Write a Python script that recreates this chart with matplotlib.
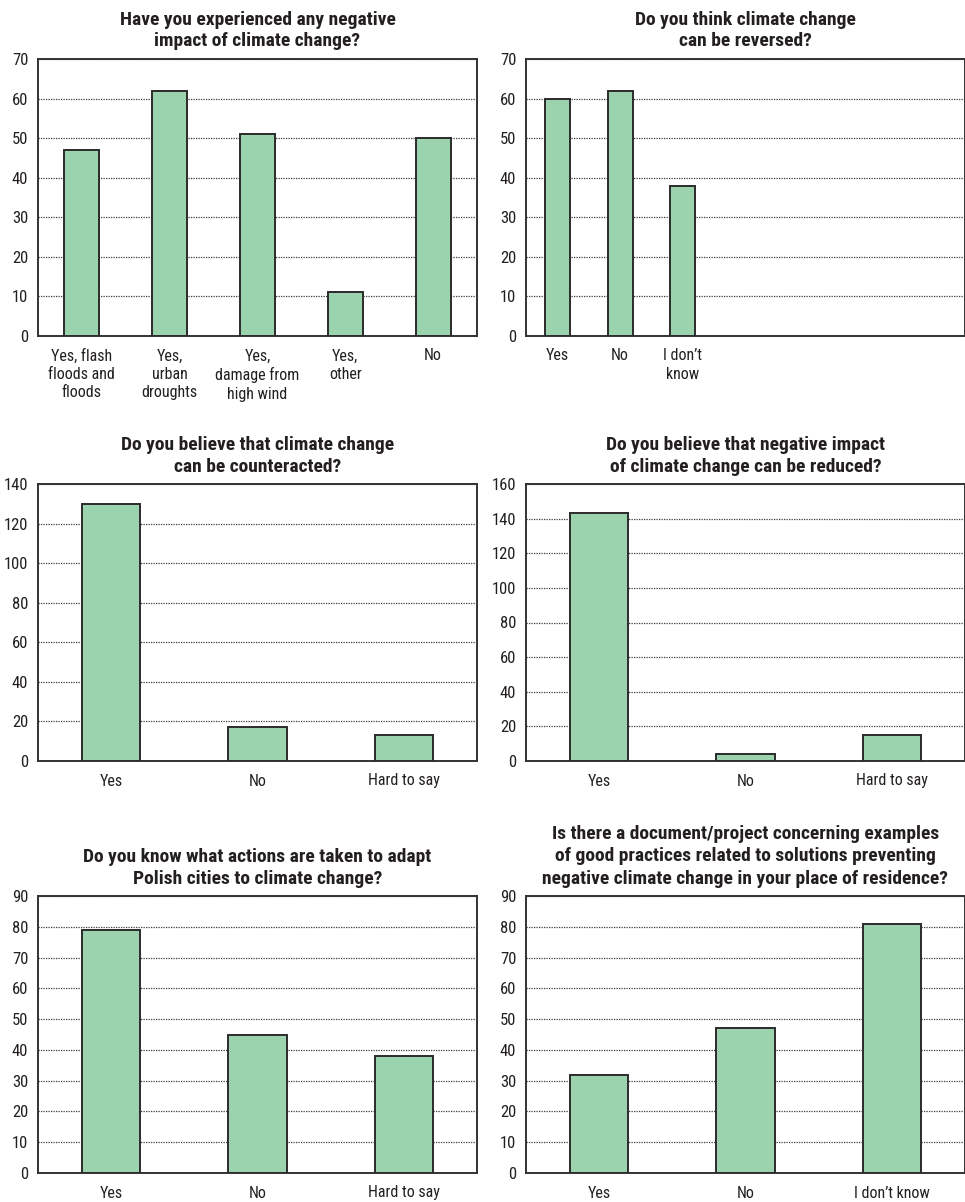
import matplotlib
matplotlib.use("Agg")
import matplotlib.pyplot as plt
from matplotlib import font_manager

# Pick a condensed sans if one is installed
available = {f.name for f in font_manager.fontManager.ttflist}
family = [f for f in ["Roboto Condensed", "Liberation Sans Narrow", "Liberation Sans", "DejaVu Sans"] if f in available]
plt.rcParams["font.family"] = family

# ---- data ----
titles = [
    "Have you experienced any negative\nimpact of climate change?",
    "Do you think climate change\ncan be reversed?",
    "Do you believe that climate change\ncan be counteracted?",
    "Do you believe that negative impact\nof climate change can be reduced?",
    "Do you know what actions are taken to adapt\nPolish cities to climate change?",
    "Is there a document/project concerning examples\nof good practices related to solutions preventing\nnegative climate change in your place of residence?",
]

impact_labels = ["Yes, flash\nfloods and\nfloods", "Yes,\nurban\ndroughts", "Yes,\ndamage from\nhigh wind", "Yes,\nother", "No"]
impact_values = [47, 62, 51, 11, 50]

reversed_labels = ["Yes", "No", "I don\u2019t\nknow"]
reversed_values = [60, 62, 38]

counteract_labels = ["Yes", "No", "Hard to say"]
counteract_values = [130, 17, 13]

reduce_labels = ["Yes", "No", "Hard to say"]
reduce_values = [143, 4, 15]

actions_labels = ["Yes", "No", "Hard to say"]
actions_values = [79, 45, 38]

document_labels = ["Yes", "No", "I don\u2019t know"]
document_values = [32, 47, 81]

y_limits = [70, 70, 140, 160, 90, 90]
y_steps = [10, 10, 20, 20, 10, 10]
slots = [5, 7, 3, 3, 3, 3]

panels = [
    (impact_labels, impact_values),
    (reversed_labels, reversed_values),
    (counteract_labels, counteract_values),
    (reduce_labels, reduce_values),
    (actions_labels, actions_values),
    (document_labels, document_values),
]

# ---- layout ----
W, H = 965, 1202
fig = plt.figure(figsize=(W / 100, H / 100), dpi=100)

col_left = [38, 526]
row_top = [59, 484, 896]
ax_w, ax_h = 439, 277

BAR_FILL = "#9bd3ae"
EDGE = "#2b2b2b"
TEXT = "#231f20"

for i, (labels, values) in enumerate(panels):
    r, c = divmod(i, 2)
    left = col_left[c] / W
    bottom = (H - row_top[r] - ax_h) / H
    ax = fig.add_axes([left, bottom, ax_w / W, ax_h / H])

    x = list(range(len(labels)))
    ax.bar(x, values, width=0.4, color=BAR_FILL, edgecolor=EDGE, linewidth=1.4, zorder=3)

    ax.set_xlim(-0.5, slots[i] - 0.5)
    ax.set_ylim(0, y_limits[i])
    ax.set_yticks(range(0, y_limits[i] + 1, y_steps[i]))
    ax.set_xticks(x)
    ax.set_xticklabels(labels, fontsize=11.5, color=TEXT, linespacing=1.28, va="top")
    ax.tick_params(axis="y", length=0, pad=7, labelsize=12, labelcolor=TEXT)
    ax.tick_params(axis="x", length=0, pad=9)

    ax.yaxis.grid(True, linestyle=(0, (1, 1)), linewidth=0.9, color="#3a3a3a", zorder=1)
    ax.set_axisbelow(True)
    for s in ax.spines.values():
        s.set_color("#333333")
        s.set_linewidth(1.4)

    spacing = 1.32 if titles[i].count("\n") > 1 else 1.22
    ax.set_title(titles[i], fontsize=14, fontweight="bold", color=TEXT, linespacing=spacing, pad=9)

fig.savefig("out.png", dpi=100, facecolor="white")
